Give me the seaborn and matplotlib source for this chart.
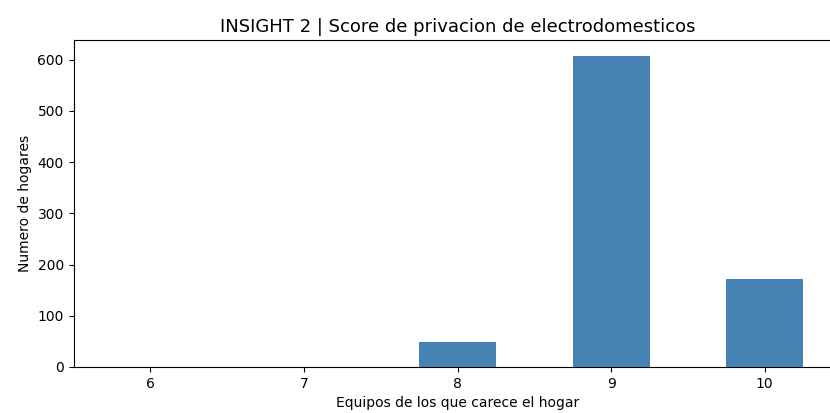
import pandas as pd
import matplotlib
matplotlib.use("Agg")
import matplotlib.pyplot as plt
import seaborn as sns

# equipos que le faltan al hogar y cantidad de hogares
equipos = ["6", "7", "8", "9", "10"]
hogares = [0, 0, 49, 608, 172]

df = pd.DataFrame({"Equipos": equipos, "Hogares": hogares})

fig = plt.figure(figsize=(8.3, 4.13), dpi=100)
# el eje se sale un poco por la derecha, como en la imagen original
ax = fig.add_axes([0.0886, 0.1114, 0.9253, 0.7917])

sns.barplot(data=df, x="Equipos", y="Hogares", color="steelblue",
            saturation=1, width=0.5, ax=ax)

ax.set_xlim(-0.5, 4.5)
ax.set_ylim(0, 638.4)
ax.set_yticks([0, 100, 200, 300, 400, 500, 600])
ax.tick_params(labelsize=10)
ax.set_title("INSIGHT 2 | Score de privacion de electrodomesticos", fontsize=13)
ax.set_xlabel("Equipos de los que carece el hogar", fontsize=10)
ax.set_ylabel("Numero de hogares", fontsize=10)

fig.savefig("out.png", dpi=100)
